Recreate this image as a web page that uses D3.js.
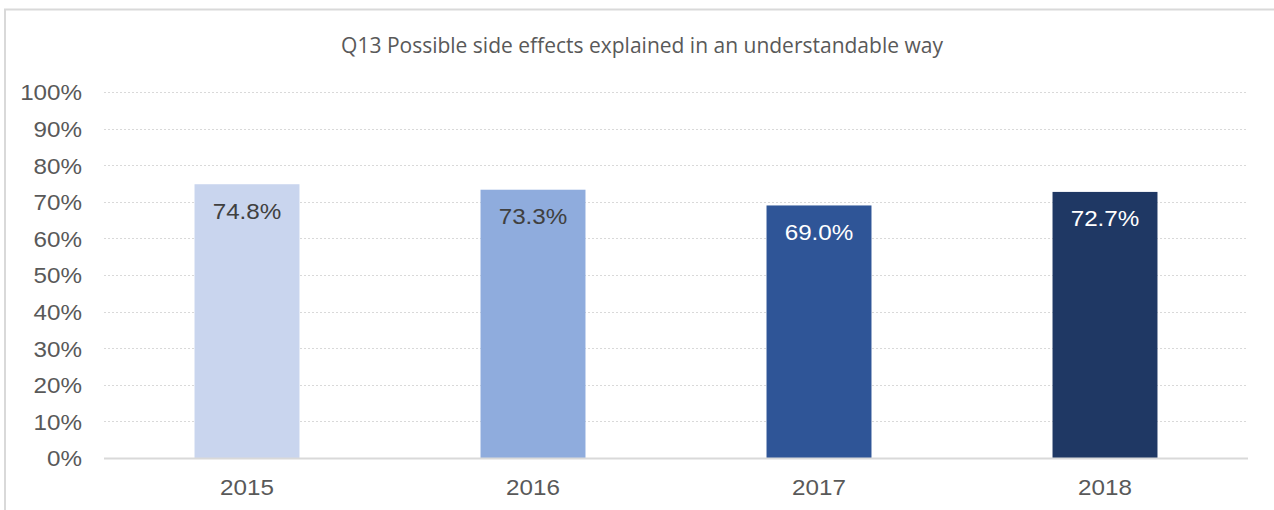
<!DOCTYPE html>
<html><head><meta charset="utf-8">
<script src="https://cdn.jsdelivr.net/npm/d3@7"></script>
<style>body{margin:0;background:#fff}svg{display:block}</style>
</head><body>
<svg id="c" width="1274" height="510"></svg>
<script>
const title = "Q13 Possible side effects explained in an understandable way";
const categories = ["2015","2016","2017","2018"];
const values = [0.748, 0.733, 0.690, 0.727];
const barColors = ["#C9D5EE","#8FACDD","#2F5597","#1F3864"];
const labelColors = ["#404040","#404040","#FFFFFF","#FFFFFF"];
const yTicks = [0,0.1,0.2,0.3,0.4,0.5,0.6,0.7,0.8,0.9,1.0];

const FS = 22, SX = 1.1;
const svg = d3.select("#c");
// frame
svg.append("rect").attr("x",5).attr("y",9.5).attr("width",1300).attr("height",600)
  .attr("fill","none").attr("stroke","#d9d9d9").attr("stroke-width",2);

const m = {left:104, right:1248, top:92, bottom:458};
const x = d3.scaleBand().domain(categories).range([m.left,m.right]).paddingInner(0.633).paddingOuter(0.3165);
const y = d3.scaleLinear().domain([0,1]).range([m.bottom,m.top]);

svg.append("text").attr("x",642).attr("y",53).attr("text-anchor","middle")
  .attr("font-family","Open Sans, sans-serif").attr("font-size",21).attr("fill","#595959").text(title);

// gridlines
svg.append("g").selectAll("line").data(yTicks.filter(d=>d>0)).join("line")
  .attr("x1",m.left).attr("x2",m.right).attr("y1",d=>Math.round(y(d))+0.5).attr("y2",d=>Math.round(y(d))+0.5)
  .attr("stroke","#d9d9d9").attr("stroke-width",1).attr("stroke-dasharray","2,2");

// y axis labels
const yAxis = d3.axisLeft(y).tickValues(yTicks).tickFormat(d3.format(".0%")).tickSize(0).tickPadding(0);
const gy = svg.append("g").attr("transform","translate(82,0)").call(yAxis);
gy.select(".domain").remove();
gy.selectAll("text").attr("font-family","Liberation Sans, Arial, sans-serif").attr("font-size",FS)
  .attr("fill","#595959").attr("x",0).attr("dy","0.36em").attr("transform",`scale(${SX},1)`);

// bars
svg.append("g").selectAll("rect").data(values).join("rect")
  .attr("x",(d,i)=>x(categories[i])).attr("width",x.bandwidth())
  .attr("y",d=>y(d)).attr("height",d=>y(0)-y(d)).attr("fill",(d,i)=>barColors[i]);

// baseline
svg.append("line").attr("x1",m.left).attr("x2",m.right).attr("y1",m.bottom+0.5).attr("y2",m.bottom+0.5)
  .attr("stroke","#d9d9d9").attr("stroke-width",2);

// x axis labels
const xAxis = d3.axisBottom(x).tickSize(0).tickPadding(0);
const gx = svg.append("g").attr("transform",`translate(0,${m.bottom})`).call(xAxis);
gx.select(".domain").remove();
gx.selectAll("text").attr("font-family","Liberation Sans, Arial, sans-serif").attr("font-size",FS)
  .attr("fill","#595959").attr("dy",null).attr("y",37).attr("transform",`scale(${SX},1)`);

// value labels
svg.append("g").selectAll("g").data(values).join("g")
  .attr("transform",(d,i)=>`translate(${x(categories[i])+x.bandwidth()/2},${y(d)+34.5})`)
  .append("text").attr("transform",`scale(${SX},1)`)
  .attr("text-anchor","middle").attr("font-family","Liberation Sans, Arial, sans-serif").attr("font-size",FS)
  .attr("fill",(d,i)=>labelColors[i]).text(d=>d3.format(".1%")(d));
</script>
</body></html>
